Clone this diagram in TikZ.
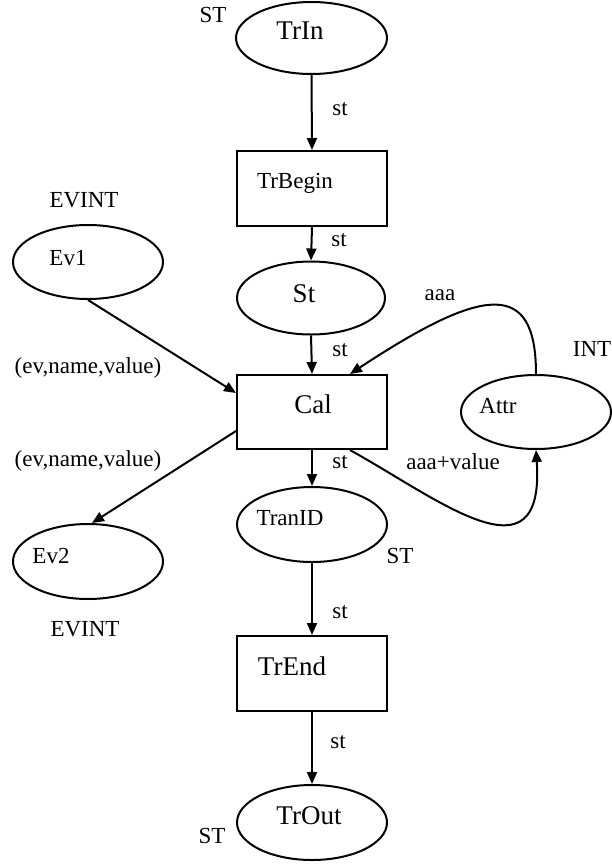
\documentclass[tikz,border=0pt]{standalone}
\usepackage{fontspec}
\setmainfont{Liberation Serif}
\usetikzlibrary{shapes.geometric,arrows.meta}
\tikzset{
  place/.style={draw,ellipse,line width=2pt,minimum width=150pt,minimum height=74pt,inner sep=0pt},
  trans/.style={draw,rectangle,line width=2pt,minimum width=150pt,minimum height=75pt,inner sep=0pt},
  big/.style={font=\fontsize{27}{30}\selectfont,inner sep=0pt},
  small/.style={font=\fontsize{23}{26}\selectfont,inner sep=0pt},
  conn/.style={line width=2pt,-{Triangle[length=12pt,width=10pt]}},
}
\begin{document}
\begin{tikzpicture}[x=1pt,y=-1pt]
\useasboundingbox (0,0) rectangle (612,865);
% places and transitions
\node[place,minimum width=151pt,minimum height=72pt] (TrIn) at (311.5,38) {};
\node[trans] (TrBegin) at (312,188.5) {};
\node[place,minimum width=148pt,minimum height=73pt] (St) at (311,298) {};
\node[trans,minimum height=74pt] (Cal) at (312,412) {};
\node[place] (Ev1) at (88,262) {};
\node[place] (Attr) at (536,412) {};
\node[place,minimum height=75pt] (TranID) at (312,524.5) {};
\node[place,minimum height=75pt] (Ev2) at (88,561.5) {};
\node[trans] (TrEnd) at (312,673.5) {};
\node[place,minimum height=75pt] (TrOut) at (312,822.5) {};
% texts inside
\node[big] (tTrIn) at (300,31) {TrIn};
\node[small] (tTrBegin) at (295,183) {TrBegin};
\node[big] (tSt) at (304,294) {St};
\node[big] (tCal) at (313,404) {Cal};
\node[small] (tEv1) at (68,258) {Ev1};
\node[small] (tAttr) at (498,406) {Attr};
\node[small] (tTranID) at (290,518) {TranID};
\node[small] (tEv2) at (51,556) {Ev2};
\node[big] (tTrEnd) at (292,666) {TrEnd};
\node[big] (tTrOut) at (309,816) {TrOut};
% type labels
\node[small] (l1) at (213,15) {ST};
\node[small] (l2) at (84,200) {EVINT};
\node[small] (l3) at (592,349) {INT};
\node[small] (l4) at (400,556) {ST};
\node[small] (l5) at (85,629) {EVINT};
\node[small] (l6) at (212,836) {ST};
% arc labels
\node[small] (s1) at (340,109) {st};
\node[small] (s2) at (339,240) {st};
\node[small] (s3) at (340,350) {st};
\node[small] (s4) at (340,462) {st};
\node[small] (s5) at (340,612) {st};
\node[small] (s6) at (338,742) {st};
\node[small] (e1) at (88,368) {(ev,name,value)};
\node[small] (e2) at (88,461) {(ev,name,value)};
\node[small] (a1) at (440,295) {aaa};
\node[small] (a2) at (453,462) {aaa+value};
% connectors
\draw[conn] (TrIn.south) -- (TrBegin.north);
\draw[conn] (TrBegin.south) -- (St.north);
\draw[conn] (St.south) -- (Cal.north);
\draw[conn] (Cal.south) -- (TranID.north);
\draw[conn] (TranID.south) -- (TrEnd.north);
\draw[conn] (TrEnd.south) -- (TrOut.north);
\draw[conn] (Ev1.south) -- ([yshift=19pt]Cal.west);
\draw[conn] ([yshift=-19pt]Cal.west) -- ([xshift=4pt]Ev2.north);
\draw[conn] (Attr.north) .. controls (536,280) and (485,285) .. ([xshift=38pt]Cal.north);
\draw[conn] ([xshift=38pt]Cal.south) .. controls (440,500) and (545,585) .. (Attr.south);
\end{tikzpicture}
\end{document}
